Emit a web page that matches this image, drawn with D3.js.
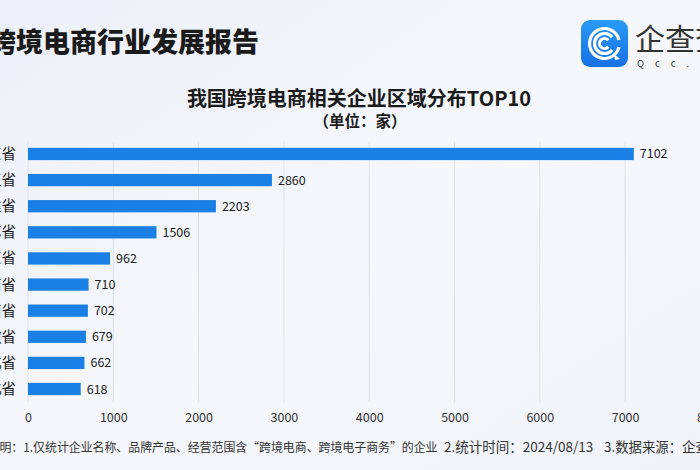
<!DOCTYPE html>
<html><head><meta charset="utf-8">
<script src="https://cdn.jsdelivr.net/npm/d3@7"></script>
<style>
html,body{margin:0;padding:0;}
body{width:700px;height:470px;overflow:hidden;font-family:"Noto Sans CJK SC","Noto Sans",sans-serif;}
</style></head>
<body>
<svg id="c" width="700" height="470"></svg>
<script>
const provinces = ["广东省","浙江省","福建省","江苏省","山东省","河南省","湖南省","安徽省","河北省","湖北省"];
const counts = [7102,2860,2203,1506,962,710,702,679,662,618];
const xTicks = [0,1000,2000,3000,4000,5000,6000,7000,8000];
const titleText = "中国跨境电商行业发展报告";
const chartTitle = "我国跨境电商相关企业区域分布TOP10";
const unitText = "（单位：家）";
const noteParts = ["说明：1.仅统计企业名称、品牌产品、经营范围含“跨境电商、跨境电子商务”的企业","2.统计时间：2024/08/13","3.数据来源：企查查"];

const svg = d3.select("#c");
const font = '"Noto Sans CJK SC","Noto Sans",sans-serif';
const defs = svg.append("defs");
const bg = defs.append("linearGradient").attr("id","bg").attr("x1","0").attr("y1","0").attr("x2","1").attr("y2","1");
bg.append("stop").attr("offset","0").attr("stop-color","#edf0f8");
bg.append("stop").attr("offset","0.5").attr("stop-color","#f5f7fb");
bg.append("stop").attr("offset","1").attr("stop-color","#f0f3f9");
svg.append("rect").attr("width",700).attr("height",470).attr("fill","url(#bg)");

const lg = defs.append("linearGradient").attr("id","lg").attr("x1","0").attr("y1","0").attr("x2","0").attr("y2","1");
lg.append("stop").attr("offset","0").attr("stop-color","#2a9af5");
lg.append("stop").attr("offset","1").attr("stop-color","#1670e6");

// page title
svg.append("text").attr("x",259).attr("y",52).attr("text-anchor","end")
  .attr("font-family",font).attr("font-size",27).attr("font-weight",900).attr("fill","#1a1a1a").text(titleText);

// logo
const logo = svg.append("g").attr("transform","translate(581,20)");
logo.append("rect").attr("width",47).attr("height",47).attr("rx",9).attr("fill","url(#lg)");
[15,10,5].forEach((r,i)=>{
  const gap = i===0 ? 0.25 : 0.7;
  logo.append("path").attr("d",d3.arc().innerRadius(r-1.6).outerRadius(r+1.6)
      .startAngle(Math.PI/2+gap).endAngle(Math.PI/2+2*Math.PI-gap)())
   .attr("transform","translate(23.5,23.5)").attr("fill","#fff");
});
logo.append("path").attr("d","M33 34 L39 39 L34 40 Z").attr("fill","#fff");
svg.append("text").attr("x",635).attr("y",50).attr("font-family",font).attr("font-size",30).attr("font-weight",400).attr("fill","#333").text("企查查");
svg.append("text").attr("x",637).attr("y",67).attr("font-family",font).attr("font-size",9.5).attr("letter-spacing",11).attr("fill","#333").text("Qcc.com");

// chart titles
svg.append("text").attr("x",359).attr("y",106).attr("text-anchor","middle")
  .attr("font-family",font).attr("font-size",20).attr("font-weight",700).attr("fill","#1a1a1a").text(chartTitle);
svg.append("text").attr("x",360).attr("y",127).attr("text-anchor","middle")
  .attr("font-family",font).attr("font-size",15.5).attr("font-weight",700).attr("fill","#1a1a1a").text(unitText);

const x = d3.scaleLinear().domain([0,8000]).range([28,710.4]);
const y = d3.scaleBand().domain(provinces).range([140,403]).paddingInner(0.53).paddingOuter(0.3);

// gridlines
svg.append("g").selectAll("line").data(xTicks).join("line")
  .attr("x1",d=>x(d)).attr("x2",d=>x(d)).attr("y1",142).attr("y2",402)
  .attr("stroke","#dde2ea").attr("stroke-width",1);

// axis labels
const ax = svg.append("g").attr("transform","translate(0,404)")
  .call(d3.axisBottom(x).tickValues(xTicks).tickSize(0).tickPadding(9).tickFormat(d3.format("d")));
ax.select(".domain").remove();
ax.selectAll("text").attr("font-family",font).attr("font-size",12.5).attr("fill","#333");

// bars
svg.append("g").selectAll("rect").data(counts).join("rect")
  .attr("x",x(0)).attr("y",(d,i)=>y(provinces[i])).attr("height",y.bandwidth())
  .attr("width",d=>x(d)-x(0)).attr("fill","#1a80e6");

// value labels
svg.append("g").selectAll("text").data(counts).join("text")
  .attr("x",d=>x(d)+6).attr("y",(d,i)=>y(provinces[i])+y.bandwidth()/2+4.5)
  .attr("font-family",font).attr("font-size",12.5).attr("fill","#222").text(d=>d);

// category labels
svg.append("g").selectAll("text").data(provinces).join("text")
  .attr("x",16).attr("y",d=>y(d)+y.bandwidth()/2+5).attr("text-anchor","end")
  .attr("font-family",font).attr("font-size",14.5).attr("fill","#222").text(d=>d);

// footnote
const noteX = [-12.5,444,604];
const noteSize = [12.2,13.5,13.4];
const noteLen = [450,null,null];
svg.append("g").selectAll("text").data(noteParts).join("text")
  .attr("x",(d,i)=>noteX[i]).attr("y",452)
  .attr("font-family",font).attr("font-size",(d,i)=>noteSize[i]).attr("fill","#333")
  .each(function(d,i){ if(noteLen[i]) d3.select(this).attr("textLength",noteLen[i]).attr("lengthAdjust","spacingAndGlyphs"); })
  .text(d=>d);
</script>
</body></html>
